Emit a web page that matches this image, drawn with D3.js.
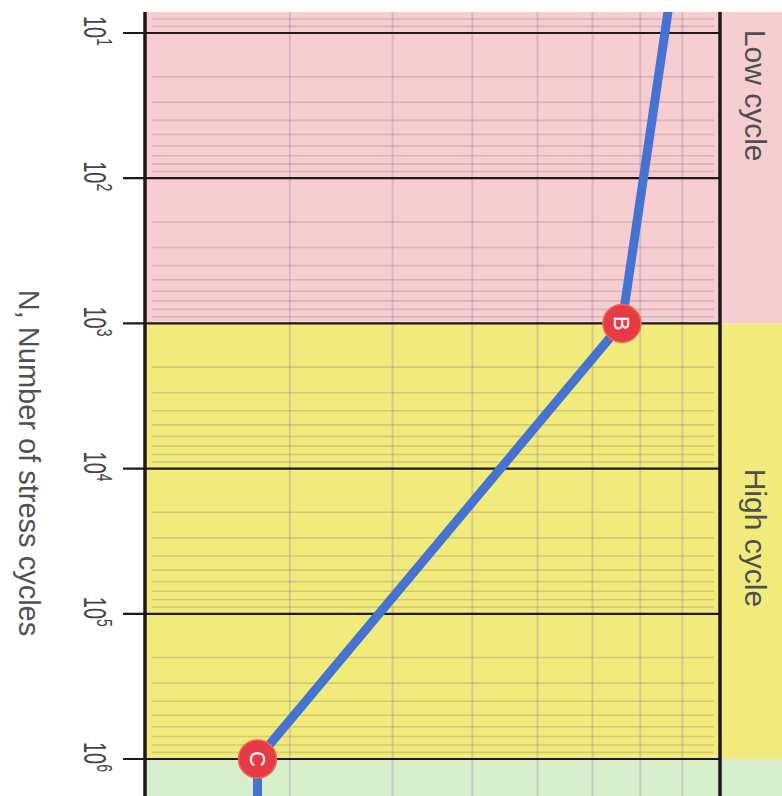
<!DOCTYPE html>
<html>
<head>
<meta charset="utf-8">
<script src="https://cdn.jsdelivr.net/npm/d3@7"></script>
<style>
  body { margin: 0; background: #fff; }
  svg { display: block; font-family: "Liberation Sans", Arial, sans-serif; }
</style>
</head>
<body>
<svg id="chart" width="782" height="796"></svg>
<script>
// S-N curve, turned a quarter turn clockwise (cycles run down, stress runs right)
const cycleTicks = [1e1, 1e2, 1e3, 1e4, 1e5, 1e6];
const cycleExponents = ["1", "2", "3", "4", "5", "6"];
const stressGrid = [30, 40, 50, 60, 70, 80, 90];

const regionNames = ["Low cycle", "High cycle", ""];
const regionStart = [1, 1e3, 1e6];
const regionEnd = [1e3, 1e6, 1e8];
const regionLabelN = [27, 3e4, 1e7];

const curveN = [1, 1e3, 1e6, 1e8];
const curveS = [91, 76, 27.4, 27.4];

const markerNames = ["B", "C"];
const markerN = [1e3, 1e6];
const markerS = [76, 27.4];

const regionFill = ["#f6cdd0", "#f1eb7c", "#d8efcd"];

const svg = d3.select("#chart");
const W = +svg.attr("width"), H = +svg.attr("height");
const plotLeft = 145, plotRight = 720, plotTop = 12;

const y = d3.scaleLog().domain([1e1, 1e6]).range([33, 759]);
const x = d3.scaleLog().domain([20, 100]).range([plotLeft, plotRight]);

const defs = svg.append("defs");
defs.append("clipPath").attr("id", "plotClip")
  .append("rect").attr("x", plotLeft).attr("y", plotTop)
  .attr("width", plotRight - plotLeft).attr("height", H - plotTop);
defs.append("clipPath").attr("id", "allClip")
  .append("rect").attr("x", plotLeft).attr("y", plotTop)
  .attr("width", W - plotLeft).attr("height", H - plotTop);

// bands
const regions = regionNames.map((n, i) => ({
  name: n, a: regionStart[i], b: regionEnd[i], at: regionLabelN[i], fill: regionFill[i]
}));
svg.append("g").attr("clip-path", "url(#allClip)")
  .selectAll("rect").data(regions).enter().append("rect")
  .attr("x", plotLeft).attr("width", W - plotLeft)
  .attr("y", d => y(d.a)).attr("height", d => y(d.b) - y(d.a))
  .attr("fill", d => d.fill);

// minor horizontal grid (2..9 in each decade)
const minor = y.copy().domain([1, 1e8]).ticks()
  .filter(v => Math.abs(Math.log10(v) - Math.round(Math.log10(v))) > 1e-6);
svg.append("g").attr("clip-path", "url(#plotClip)")
  .selectAll("line").data(minor).enter().append("line")
  .attr("x1", 152).attr("x2", plotRight - 6)
  .attr("y1", d => y(d)).attr("y2", d => y(d))
  .attr("stroke", "rgba(120,90,95,0.24)").attr("stroke-width", 1.6);

// vertical stress grid
svg.append("g")
  .selectAll("line").data(stressGrid).enter().append("line")
  .attr("x1", d => x(d)).attr("x2", d => x(d))
  .attr("y1", plotTop).attr("y2", H)
  .attr("stroke", "rgba(140,125,170,0.30)").attr("stroke-width", 2);

// major decades
svg.append("g")
  .selectAll("line").data(cycleTicks).enter().append("line")
  .attr("x1", 123).attr("x2", plotRight)
  .attr("y1", d => y(d)).attr("y2", d => y(d))
  .attr("stroke", "#1f1a1a").attr("stroke-width", 2.2);

// frame lines
svg.append("line").attr("x1", plotLeft).attr("x2", plotLeft).attr("y1", plotTop).attr("y2", H)
  .attr("stroke", "#201818").attr("stroke-width", 3.5);
svg.append("line").attr("x1", plotRight).attr("x2", plotRight).attr("y1", plotTop).attr("y2", H)
  .attr("stroke", "#201818").attr("stroke-width", 3.5);

// tick labels 10^n
const tl = svg.append("g").selectAll("text").data(cycleTicks).enter().append("text")
  .attr("transform", d => "translate(84," + (y(d) - 2) + ") scale(1.6,1) rotate(90)")
  .attr("text-anchor", "middle").attr("font-size", 20).attr("fill", "#444");
tl.append("tspan").text("10");
tl.append("tspan").attr("dy", -8).attr("font-size", 14).text((d, i) => cycleExponents[i]);

// axis title
svg.append("text")
  .attr("transform", "translate(19,463) rotate(90)")
  .attr("text-anchor", "middle").attr("font-size", 29).attr("fill", "#505050")
  .text("N, Number of stress cycles");

// region labels in right strip
svg.append("g").selectAll("text").data(regions.filter(d => d.name)).enter().append("text")
  .attr("transform", d => "translate(745," + y(d.at) + ") rotate(90)")
  .attr("text-anchor", "middle").attr("font-size", 30).attr("fill", "#505050")
  .text(d => d.name);

// curve
const pts = curveN.map((n, i) => ({ n: n, s: curveS[i] }));
const line = d3.line().x(d => x(d.s)).y(d => y(d.n));
svg.append("path").datum(pts)
  .attr("clip-path", "url(#plotClip)")
  .attr("d", line).attr("fill", "none")
  .attr("stroke", "#4673d2").attr("stroke-width", 9)
  .attr("stroke-linejoin", "round");

// markers
const marks = markerNames.map((m, i) => ({ m: m, n: markerN[i], s: markerS[i] }));
const mg = svg.append("g").selectAll("g").data(marks).enter().append("g")
  .attr("transform", d => "translate(" + x(d.s) + "," + y(d.n) + ")");
mg.append("circle").attr("r", 19).attr("fill", "#e63b45").attr("stroke", "#ef6a5a").attr("stroke-width", 1.5);
mg.append("text").attr("transform", "rotate(90)").attr("text-anchor", "middle")
  .attr("dy", "0.36em").attr("font-size", 22).attr("fill", "#fff").text(d => d.m);
</script>
</body>
</html>
